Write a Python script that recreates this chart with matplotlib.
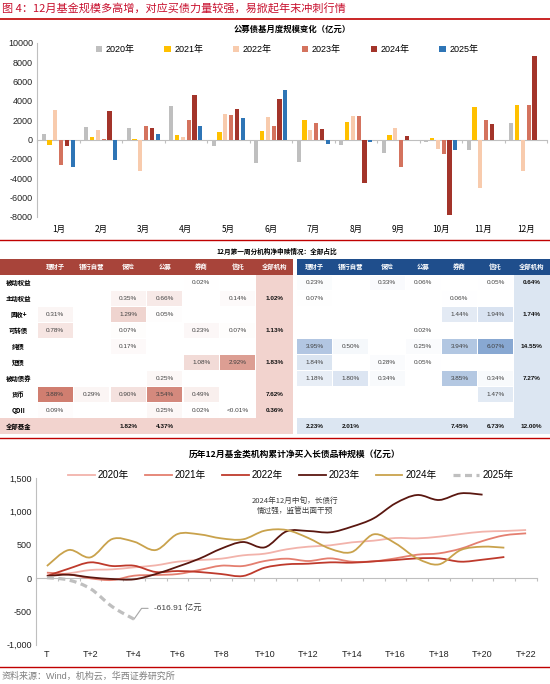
import numpy as np
import matplotlib
matplotlib.use("Agg")
import matplotlib.pyplot as plt
from matplotlib.path import Path
from matplotlib.patches import PathPatch, Rectangle
from matplotlib.lines import Line2D
from matplotlib.ticker import FuncFormatter

plt.rcParams['font.family'] = ['Liberation Sans', 'Noto Sans CJK SC', 'DejaVu Sans']
plt.rcParams['axes.unicode_minus'] = False

# ---------------- data ----------------
months = ['1月', '2月', '3月', '4月', '5月', '6月', '7月', '8月', '9月', '10月', '11月', '12月']
bar_years = ['2020年', '2021年', '2022年', '2023年', '2024年', '2025年']
bar_2020 = [600, 1350, 1200, 3500, -650, -2450, -2350, -550, -1400, -250, -1050, 1750]
bar_2021 = [-550, 250, 80, 500, 800, 900, 2050, 1800, 450, 200, 3400, 3600]
bar_2022 = [3050, 1050, -3200, 300, 2700, 2300, 1050, 2400, 1250, -950, -5000, -3250]
bar_2023 = [-2650, 100, 1450, 2050, 2550, 1400, 1750, 2400, -2800, -1500, 2000, 3600]
bar_2024 = [-700, 3000, 1250, 4650, 3200, 4250, 1150, -4500, 400, -7750, 1600, 8650]
bar_2025 = [-2800, -2100, 600, 1400, 2200, 5100, -450, -250, -50, -1050, None, None]
bar_colors = ['#BFBFBF', '#FFC000', '#F8CBAD', '#D4735E', '#A3342A', '#2E75B6']

col_headers = ['理财子', '银行自营', '保险', '公募', '券商', '信托', '全部机构']
row_labels = ['被动权益', '主动权益', '固收+', '可转债', '纯债', '短债', '被动债券', '货币', 'QDII']
total_label = '全部基金'
left_cells = [
    ['', '', '', '', '0.02%', '', ''],
    ['', '', '0.35%', '0.66%', '', '0.14%', '1.02%'],
    ['0.31%', '', '1.29%', '0.05%', '', '', ''],
    ['0.78%', '', '0.07%', '', '0.23%', '0.07%', '1.13%'],
    ['', '', '0.17%', '', '', '', ''],
    ['', '', '', '', '1.08%', '2.92%', '1.83%'],
    ['', '', '', '0.25%', '', '', ''],
    ['3.88%', '0.29%', '0.90%', '3.54%', '0.49%', '', '7.62%'],
    ['0.09%', '', '', '0.25%', '0.02%', '<0.01%', '0.36%'],
]
left_total = ['', '', '1.82%', '4.37%', '', '', '']
right_cells = [
    ['0.23%', '', '0.33%', '0.06%', '', '0.05%', '0.64%'],
    ['0.07%', '', '', '', '0.06%', '', ''],
    ['', '', '', '', '1.44%', '1.94%', '1.74%'],
    ['', '', '', '0.02%', '', '', ''],
    ['3.95%', '0.50%', '', '0.25%', '3.94%', '6.07%', '14.55%'],
    ['1.84%', '', '0.28%', '0.05%', '', '', ''],
    ['1.18%', '1.80%', '0.34%', '', '3.85%', '0.34%', '7.27%'],
    ['', '', '', '', '', '1.47%', ''],
    ['', '', '', '', '', '', ''],
]
right_total = ['2.23%', '2.01%', '', '', '7.45%', '6.73%', '12.00%']

t_labels = ['T'] + [f'T+{k}' for k in range(1, 23)]
line_years = ['2020年', '2021年', '2022年', '2023年', '2024年', '2025年']
line_2020 = [40, 70, 120, 130, 160, 190, 245, 270, 290, 340, 365, 430, 470, 490, 535, 560, 600, 595, 620, 660, 695, 705, 720]
line_2021 = [80, 55, -5, -30, 35, 45, 60, 120, 185, 180, 255, 290, 255, 295, 245, 250, 295, 350, 370, 440, 555, 640, 670]
line_2022 = [30, 140, 235, 180, 185, 90, 105, 90, 60, 30, 155, 205, 215, 235, 230, 250, 270, 295, 295, 245, 275, 315]
line_2023 = [30, 50, 10, -15, -20, 60, 170, 290, 440, 540, 460, 700, 705, 685, 770, 895, 1120, 1245, 1170, 1270, 1250]
line_2024 = [180, 420, 310, 585, 545, 420, 660, 655, 595, 580, 710, 720, 600, 440, 390, 655, 520, 295, 205, 420, 470, 455]
line_2025 = [5, -30, -160, -430, -616.91]
line_colors = ['#F2B3AB', '#E47F70', '#BE3A2C', '#5A1710', '#C9A24C', '#BFBFBF']

W, H = 550, 684
fig = plt.figure(figsize=(W / 100, H / 100), dpi=100)


def px_axes(x0, y0, x1, y1):
    return fig.add_axes([x0 / W, 1 - y1 / H, (x1 - x0) / W, (y1 - y0) / H])


def hline(y, color='#C00000', lw=1.0):
    fig.add_artist(Line2D([0, 1], [1 - y / H] * 2, transform=fig.transFigure, color=color, lw=lw))


# ---------------- header ----------------
fig.text(2 / W, 1 - 9 / H, '图 4：12月基金规模多高增，对应买债力量较强，易掀起年末冲刺行情',
         color='#C8102E', fontsize=8, va='center', ha='left',
         family=['Noto Sans CJK SC', 'DejaVu Sans'])
hline(18.5, lw=1.2)
hline(240)
hline(437.5)
hline(667)
fig.text(2 / W, 1 - 676 / H, '资料来源：Wind，机构云，华西证券研究所', color='#7F7F7F',
         fontsize=6.5, va='center', ha='left')

# ---------------- bar chart ----------------
fig.text(292 / W, 1 - 29 / H, '公募债基月度规模变化（亿元）', fontsize=6, fontweight='bold',
         ha='center', va='center', family=['Noto Sans CJK SC'])
ax1 = px_axes(37, 43, 547, 217)
x = np.arange(len(months))
series = [bar_2020, bar_2021, bar_2022, bar_2023, bar_2024, bar_2025]
step, bw = 0.137, 0.095
for i, (vals, c, lab) in enumerate(zip(series, bar_colors, bar_years)):
    v = np.array([np.nan if a is None else a for a in vals], dtype=float)
    ax1.bar(x + (i - 2.5) * step, v, width=bw, color=c, label=lab, linewidth=0)
ax1.set_xlim(-0.5, 11.5)
ax1.set_ylim(-8000, 10000)
ax1.set_yticks(np.arange(-8000, 10001, 2000))
ax1.set_xticks(x)
ax1.set_xticklabels(months, fontsize=6, family=['Noto Sans CJK SC'])
ax1.tick_params(axis='x', length=0, pad=6)
ax1.tick_params(axis='y', length=0, pad=3, labelsize=6.5, labelcolor='#222222')
for s in ['top', 'right', 'bottom']:
    ax1.spines[s].set_visible(False)
ax1.spines['left'].set_color('#BFBFBF')
ax1.spines['left'].set_linewidth(0.8)
sec1 = ax1.secondary_xaxis(8000 / 18000)
sec1.set_xticks(np.arange(-0.5, 12, 1))
sec1.tick_params(length=2, color='#BFBFBF', labelbottom=False)
sec1.spines['bottom'].set_color('#BFBFBF')
sec1.spines['bottom'].set_linewidth(0.8)
ax1.patch.set_alpha(0)
ax1.legend(ncol=6, loc='center', bbox_to_anchor=(0.49, 0.96), frameon=False,
           fontsize=6.5, handlelength=0.7, handleheight=0.7, handletextpad=0.4,
           columnspacing=3.3)

# ---------------- table ----------------
fig.text(277 / W, 1 - 251 / H, '12月第一周分机构净申赎情况：全部占比', fontsize=4.8,
         fontweight='bold', ha='center', va='center', family=['Noto Sans CJK SC'])
axt = px_axes(0, 255, 550, 438)
axt.set_xlim(0, 550)
axt.set_ylim(438, 255)
axt.axis('off')

hdr_y0, hdr_y1 = 259, 275
row_h = 15.9
n_rows = len(row_labels)
tot_y0 = hdr_y1 + n_rows * row_h
tot_y1 = tot_y0 + 16

L_lab_w, L_x0, L_cw = 37, 37, 36.5
R_x0, R_cw = 296.5, 36.2
red_hdr, blue_hdr = '#A8443A', '#1F4E8C'
pink, lblue = '#F2D3CE', '#DCE6F2'
tfs = 4.6
cjk = ['Noto Sans CJK SC', 'DejaVu Sans']


def pval(s):
    if s == '' or s.startswith('<'):
        return 0.0
    return float(s.rstrip('%'))


def mix(base, t):
    t = max(0.0, min(1.0, t))
    return tuple((1 - t) * 1.0 + t * b / 255 for b in base)


def draw_table(x0, cw, cells, total, hdr_col, col_bg, base, vmax, with_labels):
    left = 0 if with_labels else x0
    right = x0 + cw * len(col_headers)
    axt.add_patch(Rectangle((left, hdr_y0), right - left, hdr_y1 - hdr_y0, color=hdr_col, lw=0))
    for j, h in enumerate(col_headers):
        axt.text(x0 + (j + 0.5) * cw, (hdr_y0 + hdr_y1) / 2, h, color='white', fontsize=tfs,
                 fontweight='bold', ha='center', va='center', family=cjk)
    jt = len(col_headers) - 1
    axt.add_patch(Rectangle((x0 + jt * cw, hdr_y1), cw, tot_y1 - hdr_y1, color=col_bg, lw=0))
    axt.add_patch(Rectangle((left, tot_y0), right - left, tot_y1 - tot_y0, color=col_bg, lw=0))
    for i, row in enumerate(cells):
        yc = hdr_y1 + (i + 0.5) * row_h
        if with_labels:
            axt.text(L_lab_w / 2, yc, row_labels[i], fontsize=tfs, fontweight='bold',
                     ha='center', va='center', family=cjk)
        for j, s in enumerate(row):
            if s == '':
                continue
            xc = x0 + (j + 0.5) * cw
            if j < jt:
                axt.add_patch(Rectangle((x0 + j * cw + 0.6, hdr_y1 + i * row_h + 0.6),
                                        cw - 1.2, row_h - 1.2,
                                        color=mix(base, pval(s) / vmax), lw=0))
                axt.text(xc, yc, s, fontsize=tfs, ha='center', va='center', color='#404040')
            else:
                axt.text(xc, yc, s, fontsize=tfs, ha='center', va='center', color='#111111',
                         fontweight='bold')
    yc = (tot_y0 + tot_y1) / 2
    if with_labels:
        axt.text(L_lab_w / 2, yc, total_label, fontsize=tfs, fontweight='bold',
                 ha='center', va='center', family=cjk)
    for j, s in enumerate(total):
        if s:
            axt.text(x0 + (j + 0.5) * cw, yc, s, fontsize=tfs, fontweight='bold',
                     ha='center', va='center', color='#111111')


draw_table(L_x0, L_cw, left_cells, left_total, red_hdr, pink, (208, 126, 112), 3.88, True)
draw_table(R_x0, R_cw, right_cells, right_total, blue_hdr, lblue, (136, 168, 210), 6.07, False)

# ---------------- line chart ----------------
fig.text(295 / W, 1 - 454 / H, '历年12月基金类机构累计净买入长债品种规模（亿元）', fontsize=6.3,
         fontweight='bold', ha='center', va='center', family=['Noto Sans CJK SC'])
ax2 = px_axes(36, 478, 537, 644.7)
ax2.set_xlim(-0.5, 22.5)
ax2.set_ylim(-1000, 1500)


def smooth_path(ys):
    pts = np.column_stack([np.arange(len(ys)), np.array(ys, dtype=float)])
    verts = [pts[0]]
    codes = [Path.MOVETO]
    n = len(pts)
    for i in range(n - 1):
        p0 = pts[i - 1] if i > 0 else pts[i]
        p1, p2 = pts[i], pts[i + 1]
        p3 = pts[i + 2] if i + 2 < n else pts[i + 1]
        verts += [p1 + (p2 - p0) / 6, p2 - (p3 - p1) / 6, p2]
        codes += [Path.CURVE4] * 3
    return Path(verts, codes)


line_series = [line_2020, line_2021, line_2022, line_2023, line_2024, line_2025]
lhandles = []
for k, (ys, c, lab) in enumerate(zip(line_series, line_colors, line_years)):
    if k == 5:
        ls, lw = (0, (2.2, 1.4)), 2.3
    else:
        ls, lw = '-', 1.3
    ax2.add_patch(PathPatch(smooth_path(ys), facecolor='none', edgecolor=c, lw=lw,
                            linestyle=ls, capstyle='butt', zorder=3 + k))
    lhandles.append(Line2D([], [], color=c, lw=lw, linestyle=ls, label=lab))

ax2.set_yticks(np.arange(-1000, 1501, 500))
ax2.yaxis.set_major_formatter(FuncFormatter(lambda v, p: f'{v:,.0f}'))
ax2.set_xticks(np.arange(0, 23, 2))
ax2.set_xticklabels(t_labels[::2])
ax2.tick_params(axis='x', length=0, pad=4, labelsize=6.5, labelcolor='#222222')
ax2.tick_params(axis='y', length=0, pad=3, labelsize=6.5, labelcolor='#222222')
for s in ['top', 'right', 'bottom']:
    ax2.spines[s].set_visible(False)
ax2.spines['left'].set_color('#BFBFBF')
ax2.spines['left'].set_linewidth(0.8)
sec2 = ax2.secondary_xaxis(1000 / 2500)
sec2.set_xticks(np.arange(-0.5, 23, 1))
sec2.tick_params(length=2.5, color='#BFBFBF', labelbottom=False)
sec2.spines['bottom'].set_color('#BFBFBF')
sec2.spines['bottom'].set_linewidth(0.8)
ax2.legend(handles=lhandles, ncol=6, loc='center', bbox_to_anchor=(0.509, 1.016), frameon=False,
           fontsize=7, handlelength=2.7, handletextpad=0.3, columnspacing=1.7)

ax2.annotate('2024年12月中旬，长债行\n情过强，监管出面干预', xy=(11, 705), xytext=(11.4, 1080),
             fontsize=5.5, ha='center', va='center', color='#404040', family=cjk,
             linespacing=1.5,
             arrowprops=dict(arrowstyle='-', color='#A6A6A6', lw=0.7, shrinkA=9, shrinkB=0))
ax2.annotate('-616.91 亿元', xy=(4, line_2025[-1]), xytext=(4.9, -455),
             fontsize=6, ha='left', va='center', color='#404040',
             arrowprops=dict(arrowstyle='-', color='#A6A6A6', lw=0.8, shrinkA=2, shrinkB=0,
                             connectionstyle='angle,angleA=0,angleB=55,rad=0'))

fig.savefig('out.png', dpi=100)
